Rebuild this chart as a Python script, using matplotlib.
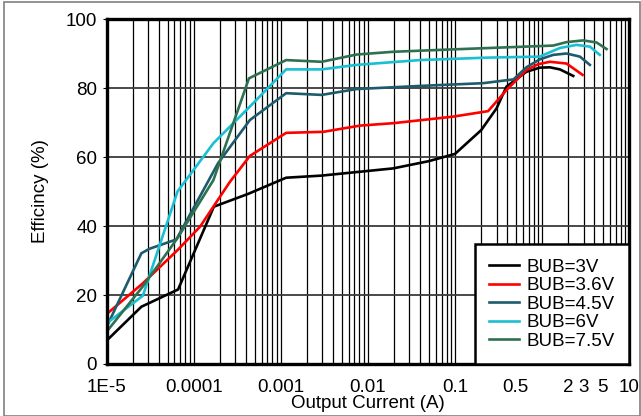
import numpy as np
import matplotlib.pyplot as plt
from matplotlib.patches import Rectangle

plt.rcParams['font.family'] = ['Liberation Sans', 'DejaVu Sans']

# efficiency curves, output current in A vs efficiency in %
i_3v = [1e-5, 2.5e-5, 6.6e-5, 1.7e-4, 4.2e-4, 1.15e-3, 2.9e-3, 0.0195, 0.05, 0.1,
        0.2, 0.3, 0.39, 0.66, 0.94, 1.23, 1.6, 2.28]
e_3v = [6.8, 16.6, 21.6, 45.6, 49.3, 54.0, 54.6, 56.7, 58.8, 60.9,
        67.8, 74.1, 80.4, 84.7, 85.9, 86.0, 85.4, 83.5]

i_36v = [1e-5, 2.6e-5, 6.5e-5, 1.18e-4, 2.0e-4, 2.6e-4, 4.4e-4, 1.15e-3, 3.07e-3, 8.1e-3,
         0.0195, 0.095, 0.24, 0.39, 0.66, 0.9, 1.23, 1.91, 2.92]
e_36v = [14.5, 23.4, 33.0, 39.8, 48.5, 52.8, 60.3, 67.0, 67.3, 69.1,
         69.8, 71.7, 73.3, 79.4, 85.2, 86.9, 87.6, 87.1, 83.8]

i_45v = [1e-5, 2.5e-5, 3.1e-5, 6.3e-5, 1.9e-4, 4.4e-4, 1.15e-3, 2.94e-3, 7.4e-3, 0.0395,
         0.21, 0.47, 0.66, 0.94, 1.34, 1.91, 2.72, 3.54]
e_45v = [10.8, 32.1, 33.4, 36.1, 58.2, 70.7, 78.5, 78.0, 79.7, 80.6,
         81.4, 82.5, 86.0, 88.3, 89.6, 90.0, 89.1, 86.7]

i_6v = [1e-5, 2.6e-5, 6.5e-5, 1.68e-4, 4.4e-4, 1.15e-3, 2.94e-3, 7.4e-3, 0.0395, 0.23,
        0.94, 1.6, 2.49, 3.54, 4.6]
e_6v = [11.8, 19.8, 50.0, 64.0, 74.6, 85.4, 85.4, 86.7, 88.1, 88.8,
        89.1, 91.6, 92.5, 92.0, 89.6]

i_75v = [1e-5, 2.6e-5, 6.5e-5, 1.68e-4, 4.3e-4, 1.15e-3, 2.94e-3, 7.4e-3, 0.0195, 0.095,
         1.34, 1.91, 2.96, 4.22, 5.5]
e_75v = [9.4, 22.5, 36.5, 53.3, 82.8, 88.1, 87.6, 89.7, 90.5, 91.2,
         92.3, 93.3, 93.8, 93.2, 91.3]

labels = ['BUB=3V', 'BUB=3.6V', 'BUB=4.5V', 'BUB=6V', 'BUB=7.5V']
colors = ['#000000', '#ff0000', '#1d5b6c', '#18c0d2', '#2e7150']

x_ticks = [1e-5, 1e-4, 1e-3, 1e-2, 0.1, 0.5, 2, 3, 5, 10]
x_tick_labels = ['1E-5', '0.0001', '0.001', '0.01', '0.1', '0.5', '2', '3', '5', '10']
y_ticks = [0, 20, 40, 60, 80, 100]

FS = 13.5

fig = plt.figure(figsize=(6.41, 4.16), dpi=100)
ax = fig.add_axes([0.1665, 0.125, 0.815, 0.8293])

# grey frame around the whole figure
fig.patches.append(Rectangle((4 / 641, 0), 1 - 4 / 641 - 0.001, 1 - 1.5 / 416,
                             transform=fig.transFigure, fill=False,
                             edgecolor='#808080', linewidth=1.2))

series = [(i_3v, e_3v), (i_36v, e_36v), (i_45v, e_45v), (i_6v, e_6v), (i_75v, e_75v)]
for (cur, eff), lab, col in zip(series, labels, colors):
    ax.plot(cur, eff, color=col, lw=1.9, label=lab, zorder=3)

ax.set_xscale('log')
ax.set_xlim(1e-5, 10)
ax.set_ylim(0, 100)

# log grid: every decade plus all the minor lines
for dec in range(-5, 1):
    for m in range(1, 10):
        ax.axvline(m * 10.0 ** dec, color='black', lw=0.9, zorder=1)
for y in y_ticks[1:-1]:
    ax.axhline(y, color='#3a3a3a', lw=1.3, zorder=1)

ax.set_xticks(x_ticks)
ax.set_xticklabels(x_tick_labels)
ax.xaxis.set_minor_locator(plt.NullLocator())
ax.set_yticks(y_ticks)
ax.tick_params(axis='x', length=0, pad=11, labelsize=FS)
ax.tick_params(axis='y', length=3, width=0.8, pad=4, labelsize=FS)

for sp in ax.spines.values():
    sp.set_linewidth(2.4)
    sp.set_zorder(4)

ax.set_xlabel('Output Current (A)', fontsize=FS, labelpad=-1)
ax.set_ylabel('Efficincy (%)', fontsize=FS, labelpad=12)

leg = ax.legend(loc='lower right', fontsize=FS, frameon=True, fancybox=False,
                borderaxespad=0, handlelength=1.6, handletextpad=0.4,
                labelspacing=0.075, borderpad=0.76)
leg.get_frame().set_edgecolor('black')
leg.get_frame().set_linewidth(1.8)
leg.get_frame().set_alpha(1)
leg.set_zorder(5)

fig.savefig('out.png', dpi=100)
